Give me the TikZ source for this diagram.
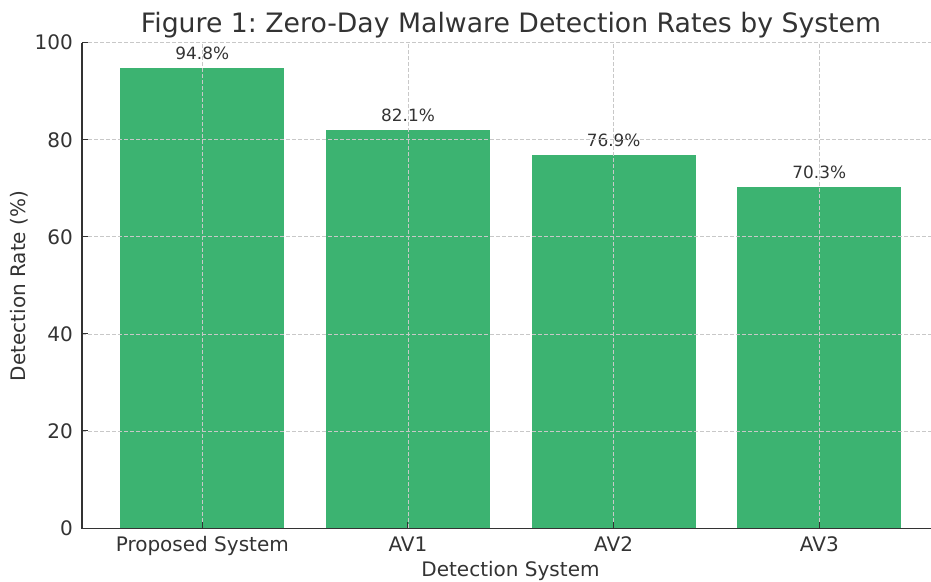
\documentclass[tikz,border=0pt]{standalone}
\usepackage{fontspec}
\setmainfont{DejaVu Sans}
\frenchspacing
\definecolor{bargreen}{HTML}{3CB371}
\definecolor{txt}{HTML}{333333}
\definecolor{gridc}{HTML}{C8C8C8}
\begin{document}
\begin{tikzpicture}[x=1pt,y=-1pt,
  bar/.style={fill=bargreen,draw=none},
  gridline/.style={draw=gridc,dash pattern=on 4pt off 2pt,line width=0.7pt},
  axisline/.style={draw=txt,line width=1.2pt},
  ticklbl/.style={text=txt,font=\fontsize{20}{24}\selectfont,inner sep=0pt},
  vallbl/.style={text=txt,font=\fontsize{16.9}{20}\selectfont,inner sep=0pt,anchor=base},
  titlelbl/.style={text=txt,font=\fontsize{26.7}{32}\selectfont,inner sep=0pt,anchor=base}]
\useasboundingbox (0,0) rectangle (931,581);
% bars: centres at 202.3 + k*205.67, width 164; 0 at y=528, 4.853 px per unit
\foreach \i/\v/\n in {0/94.8/b0,1/82.1/b1,2/76.9/b2,3/70.3/b3}{
  \pgfmathsetmacro{\cx}{202.3+\i*205.67}
  \pgfmathsetmacro{\ty}{528-\v*4.853}
  \path[bar] (\cx-82,528) rectangle (\cx+82,\ty);
  \node[vallbl] (\n) at (\cx,\ty-8) {\v\%};
}
% grid
\foreach \k in {0,1,2,3}{
  \pgfmathsetmacro{\cx}{202.3+\k*205.67}
  \draw[gridline] (\cx,528) -- (\cx,42.7);
}
\foreach \t in {20,40,60,80,100}{
  \pgfmathsetmacro{\yy}{528-\t*4.853}
  \draw[gridline] (82,\yy) -- (931,\yy);
}
% axes
\draw[axisline] (82,42.7) -- (82,528.6) -- (931,528.6);
% y ticks
\foreach \t in {0,20,40,60,80,100}{
  \pgfmathsetmacro{\yy}{528-\t*4.853}
  \draw[axisline,line width=1pt] (82,\yy) -- (88,\yy);
  \node[ticklbl,anchor=east] (yt\t) at (73,\yy) {\t};
}
% x ticks
\foreach \k/\lab in {0/Proposed System,1/AV1,2/AV2,3/AV3}{
  \pgfmathsetmacro{\cx}{202.3+\k*205.67}
  \draw[axisline,line width=1pt] (\cx,528) -- (\cx,522);
  \node[ticklbl,anchor=base] (xt\k) at (\cx,551.5) {\lab};
}
\node[ticklbl,anchor=base] (xlabel) at (510.5,576) {Detection System};
\node[ticklbl,rotate=90,anchor=base] (ylabel) at (25,286) {Detection Rate (\%)};
\node[titlelbl] (title) at (511,32.3) {Figure 1: Zero-Day Malware Detection Rates by System};
\end{tikzpicture}
\end{document}
